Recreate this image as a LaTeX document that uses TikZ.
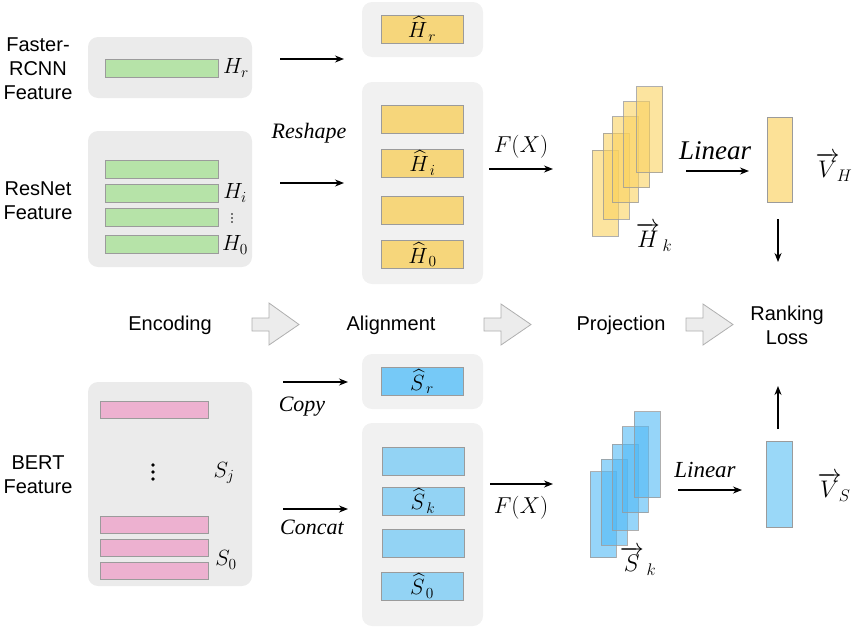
\documentclass[tikz,border=0pt]{standalone}
\usepackage{fix-cm}
\usepackage{amsmath}
\usepackage{fontspec}
\setmainfont{Liberation Sans}
\newfontfamily\tnr{Liberation Serif}
\usetikzlibrary{arrows.meta}
\definecolor{encgray}{RGB}{235,235,235}
\definecolor{alngray}{RGB}{241,241,241}
\definecolor{barline}{RGB}{155,155,155}
\definecolor{greenbar}{RGB}{182,227,168}
\definecolor{yellowbar}{RGB}{246,214,123}
\definecolor{pinkbar}{RGB}{237,177,208}
\definecolor{bluedark}{RGB}{118,201,247}
\definecolor{bluebar}{RGB}{147,211,244}
\definecolor{yellowstk}{RGB}{250,210,95}
\definecolor{bluestk}{RGB}{80,185,245}
\definecolor{vhfill}{RGB}{252,225,151}
\definecolor{vsfill}{RGB}{154,216,248}
\definecolor{blockgray}{RGB}{236,236,236}
\definecolor{blockline}{RGB}{175,175,175}
\tikzset{
  x=1pt, y=-1pt,
  encpanel/.style={fill=encgray, rounded corners=10pt, inner sep=0pt},
  alnpanel/.style={fill=alngray, rounded corners=10pt, inner sep=0pt},
  bar/.style 2 args={draw=barline, line width=0.9pt, inner sep=0pt, minimum width=#1pt, minimum height=#2pt},
  stk/.style={draw=barline, draw opacity=0.8, line width=0.9pt, fill opacity=0.6, inner sep=0pt, minimum width=26pt, minimum height=86pt},
  arr/.style={line width=1.3pt, -{Stealth[length=9pt,width=7pt]}},
  sans/.style={font=\fontsize{20}{24}\selectfont, align=center},
  mlab/.style={font=\fontsize{22}{24}\selectfont},
  vlab/.style={font=\fontsize{24}{26}\selectfont},
  itlab/.style={font=\fontsize{22}{24}\selectfont\tnr\itshape},
  block/.style={fill=blockgray, draw=blockline, line width=0.8pt, line join=miter},
}
\begin{document}
\begin{tikzpicture}
\useasboundingbox (0,0) rectangle (858,627);

% ---------- Encoding panels ----------
\node[encpanel, minimum width=164pt, minimum height=61pt] (pfr) at (170,67.5) {};
\node[encpanel, minimum width=164pt, minimum height=136pt] (pres) at (170,199) {};
\node[encpanel, minimum width=164pt, minimum height=204pt] (pbert) at (170,484) {};

% ---------- Alignment panels ----------
\node[alnpanel, minimum width=121pt, minimum height=55pt] (phr) at (422.5,29.5) {};
\node[alnpanel, minimum width=121pt, minimum height=202pt] (phi) at (422.5,183) {};
\node[alnpanel, minimum width=121pt, minimum height=55pt] (psr) at (422.5,381.5) {};
\node[alnpanel, minimum width=121pt, minimum height=203pt] (psk) at (422.5,524.5) {};

% ---------- left labels ----------
\node[sans] (tfr) at (38,69) {Faster-\\RCNN\\Feature};
\node[sans] (tres) at (38,201) {ResNet\\Feature};
\node[sans] (tbert) at (38,475) {BERT\\Feature};

% ---------- green bars ----------
\node[bar={113}{18}, fill=greenbar] (gr) at (161.5,68) {};
\node[bar={113}{18}, fill=greenbar] (g1) at (161.5,169) {};
\node[bar={113}{18}, fill=greenbar] (g2) at (161.5,193) {};
\node[bar={113}{18}, fill=greenbar] (g3) at (161.5,217.5) {};
\node[bar={113}{18}, fill=greenbar] (g4) at (161.5,244) {};
\node[mlab] (lhr) at (236,68) {$H_r$};
\node[mlab] (lhi) at (235,193) {$H_i$};
\fill (232,214) circle (0.8pt) (232,218) circle (0.8pt) (232,222) circle (0.8pt);
\node[mlab] (lh0) at (235,245) {$H_0$};

% ---------- yellow bars ----------
\node[bar={82}{28}, fill=yellowbar] (yr) at (422,29) {};
\node[bar={82}{28}, fill=yellowbar] (y1) at (422,119) {};
\node[bar={82}{28}, fill=yellowbar] (y2) at (422.5,163) {};
\node[bar={82}{28}, fill=yellowbar] (y3) at (422,210.5) {};
\node[bar={82}{28}, fill=yellowbar] (y4) at (422.5,254.5) {};
\node[mlab] at (yr) {$\widehat{H}_{\,r}$};
\node[mlab] at (y2) {$\widehat{H}_{\,i}$};
\node[mlab] at (y4) {$\widehat{H}_{\,0}$};

% ---------- pink bars ----------
\node[bar={108}{17}, fill=pinkbar] (s1) at (154,409.5) {};
\node[bar={108}{17}, fill=pinkbar] (s2) at (154,524.5) {};
\node[bar={108}{17}, fill=pinkbar] (s3) at (154,548) {};
\node[bar={108}{17}, fill=pinkbar] (s4) at (154,570.5) {};
\fill (153,465) circle (1.8pt) (153,472) circle (1.8pt) (153,479) circle (1.8pt);
\node[mlab] (lsj) at (224,473) {$S_j$};
\node[mlab] (ls0) at (226,560) {$S_0$};

% ---------- blue bars ----------
\node[bar={82}{28}, fill=bluedark] (br) at (422,381.5) {};
\node[bar={82}{28}, fill=bluebar] (b1) at (423,461) {};
\node[bar={82}{28}, fill=bluebar] (b2) at (423,501) {};
\node[bar={82}{28}, fill=bluebar] (b3) at (423,543.5) {};
\node[bar={82}{28}, fill=bluebar] (b4) at (422,586) {};
\node[mlab] at (br) {$\widehat{S}_{\,r}$};
\node[mlab] at (b2) {$\widehat{S}_{\,k}$};
\node[mlab] at (b4) {$\widehat{S}_{\,0}$};

% ---------- stacks ----------
\node[stk, fill=yellowstk] (hk1) at (605,193) {};
\node[stk, fill=yellowstk] (hk2) at (616,176) {};
\node[stk, fill=yellowstk] (hk3) at (625,159.5) {};
\node[stk, fill=yellowstk] (hk4) at (636.5,144.5) {};
\node[stk, fill=yellowstk] (hk5) at (649.5,129.5) {};
\node[vlab] (lhk) at (654,237) {$\overrightarrow{H}_{\,k}$};

\node[stk, fill=bluestk] (sk1) at (603,514.5) {};
\node[stk, fill=bluestk] (sk2) at (614,502) {};
\node[stk, fill=bluestk] (sk3) at (625,487) {};
\node[stk, fill=bluestk] (sk4) at (635,469.5) {};
\node[stk, fill=bluestk] (sk5) at (647,454.5) {};
\node[vlab] (lsk) at (638,561) {$\overrightarrow{S}_{\,k}$};

% ---------- output vectors ----------
\node[bar={25}{85}, fill=vhfill] (vh) at (779.5,159.5) {};
\node[bar={26}{86}, fill=vsfill] (vs) at (779,484) {};
\node[vlab] (lvh) at (834,167) {$\overrightarrow{V}_{\!H}$};
\node[vlab] (lvs) at (834,487) {$\overrightarrow{V}_{\!S}$};

% ---------- stage labels ----------
\node[sans] (enc) at (170,325) {Encoding};
\node[sans] (aln) at (391,325) {Alignment};
\node[sans] (proj) at (621,325) {Projection};
\node[sans] (rank) at (787,325) {Ranking\\Loss};

% ---------- block arrows ----------
\draw[block] (252,318) -- (269,318) -- (269,303) -- (299,324.5) -- (269,345) -- (269,331) -- (252,331) -- cycle;
\draw[block] (484,318) -- (501,318) -- (501,304) -- (531,324.5) -- (501,345) -- (501,331) -- (484,331) -- cycle;
\draw[block] (686,318) -- (703,318) -- (703,304) -- (733,324.5) -- (703,345) -- (703,331) -- (686,331) -- cycle;

% ---------- thin arrows ----------
\coordinate (a1s) at (280,59);  \coordinate (a1e) at (344,59);
\coordinate (a2s) at (280,183); \coordinate (a2e) at (344,183);
\coordinate (a3s) at (489,169); \coordinate (a3e) at (553,169);
\coordinate (a4s) at (686,171); \coordinate (a4e) at (749,171);
\coordinate (a5s) at (778,219); \coordinate (a5e) at (778,262);
\coordinate (a6s) at (778,429); \coordinate (a6e) at (778,386);
\coordinate (a7s) at (283,382); \coordinate (a7e) at (348,382);
\coordinate (a8s) at (283,509); \coordinate (a8e) at (348,509);
\coordinate (a9s) at (490,484); \coordinate (a9e) at (553,484);
\coordinate (a10s) at (678,490); \coordinate (a10e) at (742,490);
\draw[arr] (a1s) -- (a1e);
\draw[arr] (a2s) -- (a2e);
\draw[arr] (a3s) -- (a3e);
\draw[arr] (a4s) -- (a4e);
\draw[arr] (a5s) -- (a5e);
\draw[arr] (a6s) -- (a6e);
\draw[arr] (a7s) -- (a7e);
\draw[arr] (a8s) -- (a8e);
\draw[arr] (a9s) -- (a9e);
\draw[arr] (a10s) -- (a10e);

% ---------- arrow labels ----------
\node[itlab] (lresh) at (309,133) {Reshape};
\node[itlab] (lcopy) at (302,407) {Copy};
\node[itlab] (lconc) at (312,527) {Concat};
\node[font=\fontsize{23}{26}\selectfont] (lfx1) at (521,147) {$F(X)$};
\node[font=\fontsize{23}{26}\selectfont] (lfx2) at (521,508) {$F(X)$};
\node[font=\fontsize{27}{29}\selectfont\tnr\itshape] (llin1) at (715,151) {Linear};
\node[font=\fontsize{23}{26}\selectfont\tnr\itshape] (llin2) at (705,470) {Linear};
\end{tikzpicture}
\end{document}
